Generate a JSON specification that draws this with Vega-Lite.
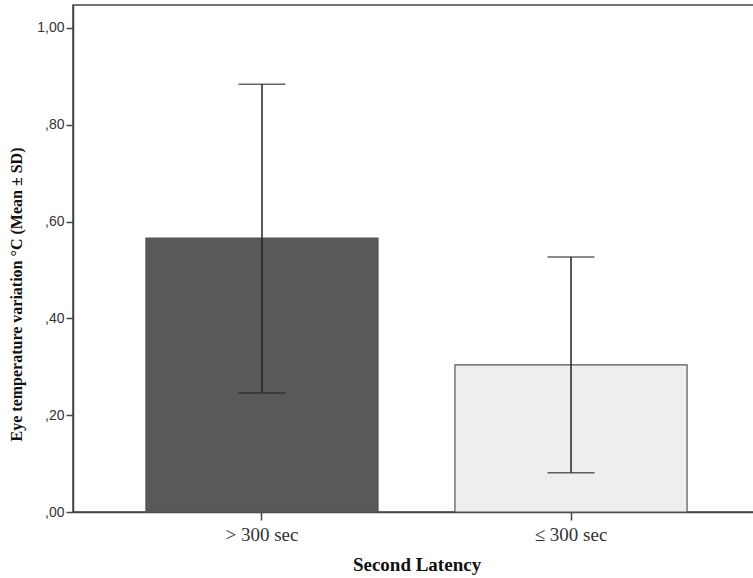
{
  "$schema": "https://vega.github.io/schema/vega-lite/v6.json",
  "autosize": "none",
  "width": 687,
  "height": 507,
  "padding": {"left": 73, "top": 5, "right": 0, "bottom": 66},
  "background": "white",
  "config": {
    "view": {"stroke": "#444", "strokeWidth": 1.5},
    "axis": {"grid": false}
  },
  "data": {"values": [
    {"latency": "> 300 sec", "mean": 0.566, "lo": 0.246, "hi": 0.884},
    {"latency": "≤ 300 sec", "mean": 0.304, "lo": 0.081, "hi": 0.527}
  ]},
  "encoding": {
    "x": {
      "field": "latency", "type": "nominal", "sort": null,
      "scale": {"paddingInner": 0.249, "paddingOuter": 0.236},
      "axis": {
        "title": "Second Latency", "titleFont": "Liberation Serif", "titleFontSize": 19, "titleFontWeight": "bold", "titleColor": "#111", "titlePadding": 11,
        "labelAngle": 0, "labelFont": "Liberation Serif", "labelFontSize": 19, "labelColor": "#333", "labelPadding": 5,
        "domainColor": "#444", "domainWidth": 1.5, "tickColor": "#444", "tickSize": 8, "tickWidth": 1.5
      }
    }
  },
  "layer": [
    {
      "mark": {"type": "bar", "strokeWidth": 1.2, "stroke": "#555"},
      "encoding": {
        "y": {
          "field": "mean", "type": "quantitative",
          "scale": {"domain": [0, 1.0475], "nice": false, "zero": true},
          "axis": {
            "title": "Eye temperature variation °C (Mean ± SD)", "titleFont": "Liberation Serif", "titleFontSize": 16, "titleFontWeight": "bold", "titleColor": "#111", "titlePadding": 12, "titleY": 289,
            "values": [0, 0.2, 0.4, 0.6, 0.8, 1.0],
            "labelExpr": "datum.value < 1 ? substring(replace(format(datum.value, '.2f'), '.', ','), 1) : replace(format(datum.value, '.2f'), '.', ',')",
            "labelFont": "Liberation Sans", "labelFontSize": 14, "labelColor": "#333", "labelPadding": 2,
            "domainColor": "#444", "domainWidth": 1.5, "tickColor": "#444", "tickSize": 7, "tickWidth": 1.5
          }
        },
        "color": {
          "field": "latency", "type": "nominal", "sort": null,
          "scale": {"range": ["#595959", "#eeeeee"]},
          "legend": null
        }
      }
    },
    {
      "mark": {"type": "rule", "color": "#222", "strokeWidth": 1.5},
      "encoding": {
        "y": {"field": "lo", "type": "quantitative"},
        "y2": {"field": "hi"}
      }
    },
    {
      "mark": {"type": "tick", "color": "#222", "thickness": 1.5, "size": 47},
      "encoding": {"y": {"field": "hi", "type": "quantitative"}}
    },
    {
      "mark": {"type": "tick", "color": "#222", "thickness": 1.5, "size": 47},
      "encoding": {"y": {"field": "lo", "type": "quantitative"}}
    }
  ]
}
